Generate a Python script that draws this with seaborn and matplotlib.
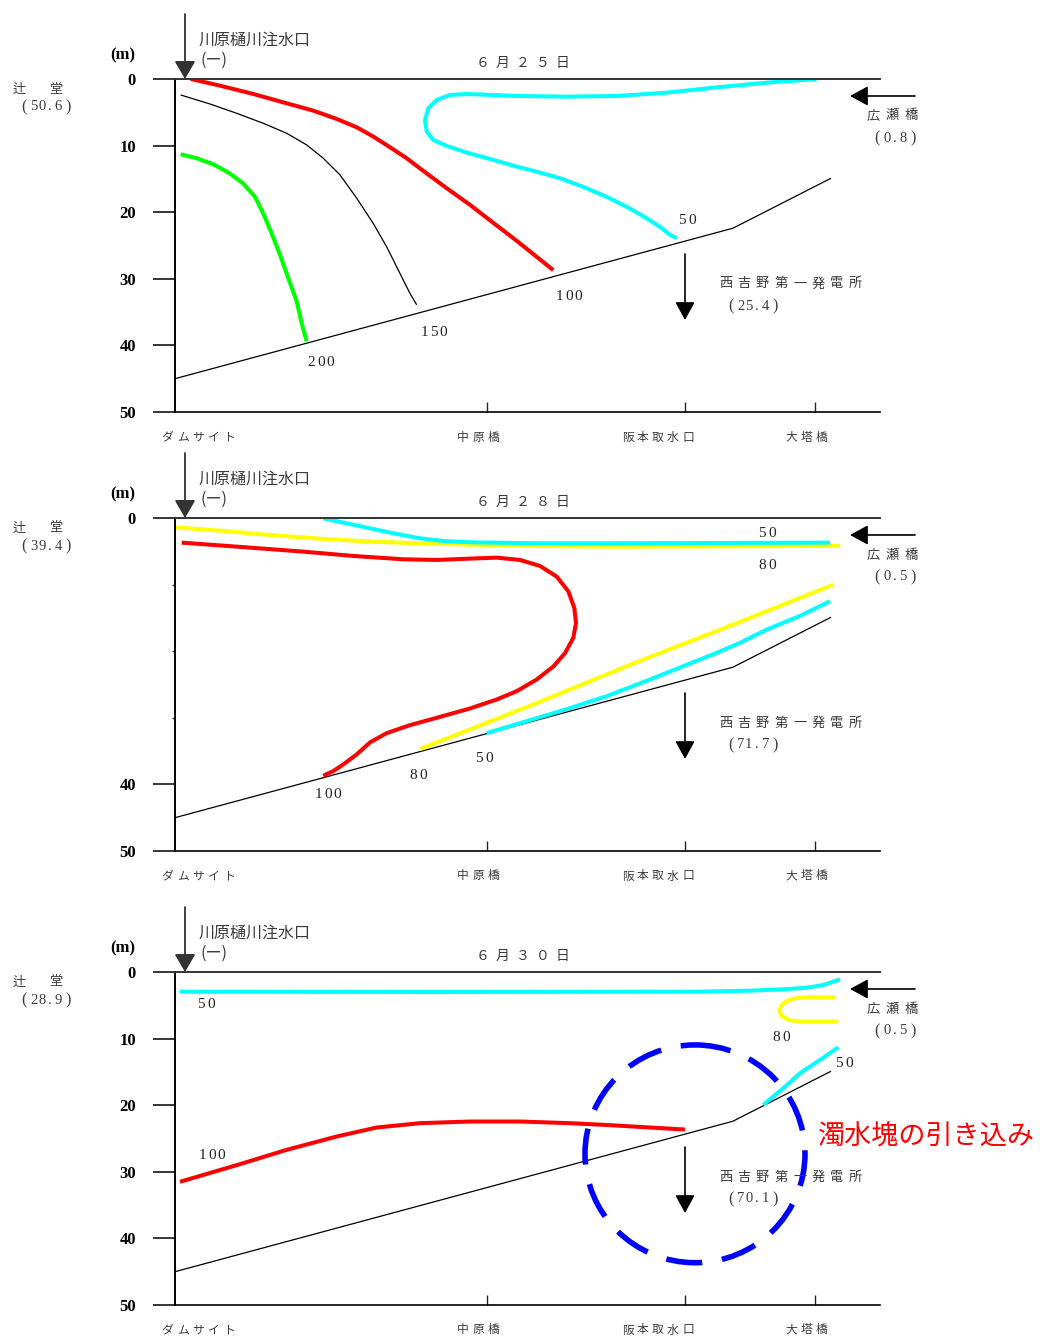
import numpy as np
import pandas as pd
import matplotlib
matplotlib.use("Agg")
import matplotlib.pyplot as plt
from matplotlib.patches import Ellipse, ArrowStyle
from matplotlib.transforms import ScaledTranslation
import seaborn as sns

sns.set_style("white")
plt.rcParams['font.family'] = ['Noto Sans CJK JP', 'DejaVu Sans']

# ---------------- data ----------------
# x: distance from dam site (chart units), y: depth (m)
station_names = ["ダムサイト", "中原橋", "阪本取水口", "大塔橋"]
station_x = [0, 312, 510, 640]
depth_ticks = [0, 10, 20, 30, 40, 50]

bed_x = [0, 558, 656]
bed_y = [45.0, 22.4, 14.9]

panel_titles = ["６月２５日", "６月２８日", "６月３０日"]
tsujido_vals = ["50.6", "39.4", "28.9"]
hirose_vals = ["0.8", "0.5", "0.5"]
nishiyoshino_vals = ["25.4", "71.7", "70.1"]

# Panel 1 (6/25)
p1_red100_x = [15.7, 45, 78.3, 111.7, 138.3, 161.7, 181.7, 198.3, 215, 231.7, 248.3,
               271.7, 295, 318.3, 341.7, 361.7, 378.3]
p1_red100_y = [0, 1.0, 2.25, 3.65, 4.75, 6.0, 7.25, 8.65, 10.25, 11.9, 13.8,
               16.4, 18.9, 21.6, 24.3, 26.7, 28.7]
p1_blk150_x = [5.7, 35, 61.7, 88.3, 111.7, 131.7, 148.3, 165, 181.7, 198.3, 211.7,
               225, 235, 241.7]
p1_blk150_y = [2.4, 3.75, 5.15, 6.65, 8.15, 9.9, 11.9, 14.4, 17.9, 21.7, 25.2,
               29.2, 32.2, 33.9]
p1_grn200_x = [5.7, 21.7, 38.3, 55, 68.3, 80, 88.3, 96.7, 105, 113.3, 121.7, 126.7, 131.7]
p1_grn200_y = [11.3, 11.9, 12.8, 14.2, 15.7, 17.7, 20.2, 23.2, 26.4, 29.9, 33.4, 36.7, 39.4]
p1_cyn50_x = [641.7, 591.7, 541.7, 491.7, 441.7, 391.7, 341.7, 291.7, 275, 261.7,
              253.3, 250, 251.7, 258.3, 271.7, 291.7, 318.3, 341.7, 365, 385,
              408.3, 431.7, 451.7, 468.3, 485, 495, 501.7]
p1_cyn50_y = [0, 0.55, 1.25, 2.05, 2.55, 2.65, 2.55, 2.25, 2.4, 3.15,
              4.4, 6.15, 7.9, 9.15, 10.05, 11.05, 12.15, 13.15, 14.05, 14.9,
              16.2, 17.7, 19.2, 20.6, 22.2, 23.4, 23.9]

# Panel 2 (6/28)
p2_yel80a_x = [0, 45, 95, 145, 195, 245, 295, 361.7, 435, 655, 665]
p2_yel80a_y = [1.4, 1.9, 2.55, 3.1, 3.55, 3.8, 4.0, 4.2, 4.3, 4.2, 4.15]
p2_cyn50a_x = [148.3, 171.7, 195, 221.7, 245, 268.3, 295, 361.7, 435, 655]
p2_cyn50a_y = [0.05, 0.8, 1.55, 2.4, 3.05, 3.45, 3.65, 3.8, 3.8, 3.7]
p2_red100_x = [6.7, 61.7, 128.3, 178.3, 228.3, 261.7, 295, 321.7, 345, 365, 381.7,
               393.3, 399.3, 401, 398.3, 390, 378.3, 361.7, 341.7, 321.7, 295,
               261.7, 235, 211.7, 195, 181.7, 168.3, 158.3, 148.3]
p2_red100_y = [3.7, 4.3, 5.05, 5.7, 6.2, 6.3, 6.1, 5.95, 6.3, 7.2, 8.8,
               11.0, 13.5, 15.8, 18.0, 20.3, 22.3, 24.25, 26.0, 27.25, 28.6,
               30.0, 31.1, 32.3, 33.7, 35.5, 37.0, 38.0, 38.7]
p2_yel80b_x = [245, 358.3, 458.3, 558.3, 658.3]
p2_yel80b_y = [34.7, 28.0, 21.85, 16.0, 10.0]
p2_cyn50b_x = [311.7, 358.3, 391.7, 431.7, 475, 508.3, 541.7, 565, 591.7, 625, 655]
p2_cyn50b_y = [32.3, 30.2, 28.7, 26.75, 24.25, 22.25, 20.25, 18.75, 16.75, 14.7, 12.5]

# Panel 3 (6/30)
p3_cyn50a_x = [5, 260, 525, 575, 608.3, 631.7, 648.3, 658.3, 665]
p3_cyn50a_y = [2.95, 3.0, 2.95, 2.8, 2.6, 2.35, 1.95, 1.45, 1.1]
p3_yel80_x = [660, 635, 621.7, 612.3, 606.7, 604.3, 606.7, 613.3, 625, 645, 663.3]
p3_yel80_y = [3.8, 3.8, 3.9, 4.3, 4.95, 5.8, 6.6, 7.2, 7.45, 7.45, 7.45]
p3_cyn50b_x = [588.3, 608.3, 625, 645, 663.3]
p3_cyn50b_y = [19.95, 17.45, 15.2, 13.2, 11.3]
p3_red100_x = [5, 61.7, 111.7, 161.7, 201.7, 245, 295, 345, 395, 435, 475, 510]
p3_red100_y = [31.5, 29.0, 26.7, 24.7, 23.35, 22.7, 22.45, 22.45, 22.7, 23.0, 23.35, 23.65]

# contour labels: (text, x, y)
p1_labels = [("100", 394, 32.6), ("150", 259, 38.1), ("200", 146, 42.6), ("50", 512, 21.2)]
p2_labels = [("50", 592, 2.4), ("80", 592, 7.2), ("100", 153, 41.5), ("80", 243, 38.6), ("50", 309, 36.1)]
p3_labels = [("50", 31, 4.95), ("80", 606, 9.9), ("50", 669, 13.7), ("100", 37, 27.5)]

# ---------------- figure ----------------
W, H = 1040, 1338
fig = plt.figure(figsize=(W / 100, H / 100), dpi=100)

def fx(px):
    return px / W

def fy(py):
    return 1 - py / H

TXT = '#3a3a3a'

def spaced(px_center, py, s, pitch, size=9.5, color=TXT, family=None):
    n = len(s)
    x0 = px_center - pitch * (n - 1) / 2
    for i, ch in enumerate(s):
        kw = {}
        if family:
            kw['fontfamily'] = family
        fig.text(fx(x0 + i * pitch), fy(py), ch, ha='center', va='center',
                 fontsize=size, color=color, **kw)

def paren_value(px_center, py, val, pitch=8.2, size=10.5):
    spaced(px_center, py, val, pitch, size=size, family='Liberation Serif')
    half = pitch * len(val) / 2 + 6
    fig.text(fx(px_center - half), fy(py), '(', ha='center', va='center', fontsize=size + 1,
             color=TXT, fontfamily='Liberation Serif')
    fig.text(fx(px_center + half), fy(py), ')', ha='center', va='center', fontsize=size + 1,
             color=TXT, fontfamily='Liberation Serif')

def data_spaced(ax, x, y, s, pitch=9.5, size=11):
    n = len(s)
    for i, ch in enumerate(s):
        dx = (i - (n - 1) / 2) * pitch
        tr = ax.transData + ScaledTranslation(dx / 100, 0, fig.dpi_scale_trans)
        ax.text(x, y, ch, transform=tr, ha='center', va='center', fontsize=size,
                fontfamily='Liberation Serif', color='#222222')

panel_top = [79, 518, 972]
ax_left, ax_right = 175, 880
scale = 333 / 50.0

RED, CYAN, GREEN, YELLOW = '#ff0000', '#00ffff', '#00ff00', '#ffff00'
LW = 2.9

def draw(ax, xs, ys, color, lw=LW):
    df = pd.DataFrame({'x': xs, 'y': ys})
    sns.lineplot(data=df, x='x', y='y', sort=False, estimator=None, color=color,
                 lw=lw, ax=ax, solid_capstyle='butt', solid_joinstyle='round')

panels = [
    [(p1_red100_x, p1_red100_y, RED), (p1_blk150_x, p1_blk150_y, 'black'),
     (p1_grn200_x, p1_grn200_y, GREEN), (p1_cyn50_x, p1_cyn50_y, CYAN)],
    [(p2_yel80a_x, p2_yel80a_y, YELLOW), (p2_cyn50a_x, p2_cyn50a_y, CYAN),
     (p2_red100_x, p2_red100_y, RED), (p2_yel80b_x, p2_yel80b_y, YELLOW),
     (p2_cyn50b_x, p2_cyn50b_y, CYAN)],
    [(p3_cyn50a_x, p3_cyn50a_y, CYAN), (p3_yel80_x, p3_yel80_y, YELLOW),
     (p3_cyn50b_x, p3_cyn50b_y, CYAN), (p3_red100_x, p3_red100_y, RED)],
]
labels_all = [p1_labels, p2_labels, p3_labels]

for i in range(3):
    y0 = panel_top[i]
    ax = fig.add_axes([fx(ax_left), fy(y0 + 333), (ax_right - ax_left) / W, 333 / H])
    ax.set_xlim(0, 705)
    ax.set_ylim(50, 0)
    ax.set_facecolor('none')
    ax.spines['right'].set_visible(False)
    ax.spines['left'].set_linewidth(1.4)
    ax.spines['left'].set_color('black')
    ax.spines['top'].set_linewidth(1.4)
    ax.spines['top'].set_color('#333333')
    ax.spines['bottom'].set_linewidth(1.2)
    ax.spines['bottom'].set_color('black')

    # bed line
    draw(ax, bed_x, bed_y, 'black', lw=0.9)
    for xs, ys, c in panels[i]:
        draw(ax, xs, ys, c, lw=(0.9 if c == 'black' else LW))

    # y ticks
    if i == 1:
        ax.set_yticks([0, 40, 50])
        ax.set_yticks([10, 20, 30], minor=True)
        ax.tick_params(axis='y', which='minor', left=True, length=2, width=1, direction='out')
    else:
        ax.set_yticks(depth_ticks)
    ax.set_yticklabels([str(v) for v in ax.get_yticks()], fontfamily='Liberation Serif',
                       fontweight='bold', fontsize=12)
    ax.tick_params(axis='y', which='major', left=True, length=16, width=1.1, direction='out',
                   pad=12, colors='black')
    # x ticks (inward, no labels)
    ax.set_xticks(station_x[1:])
    ax.set_xticklabels([])
    ax.tick_params(axis='x', bottom=True, length=7, width=1, direction='in')
    ax.set_xlabel('')
    ax.set_ylabel('')

    # contour labels
    for t, x, y in labels_all[i]:
        data_spaced(ax, x, y, t)

    # station labels
    spaced(198, y0 + 358, station_names[0], 15.5, size=8.5)
    spaced(478, y0 + 358, station_names[1], 15.0, size=8.5)
    spaced(658, y0 + 358, station_names[2], 15.0, size=8.5)
    spaced(806, y0 + 358, station_names[3], 15.0, size=8.5)

    # inflow arrow at top-left
    ax.annotate('', xy=(10, 0), xytext=(10, (14 - 79) / scale),
                arrowprops=dict(arrowstyle=ArrowStyle('-|>', head_length=0.55, head_width=0.32),
                                mutation_scale=20, color='#333333', lw=1.3, shrinkA=0, shrinkB=0),
                annotation_clip=False)
    fig.text(fx(199), fy(y0 - 39), '川原樋川注水口', ha='left', va='center', fontsize=11.5, color=TXT)
    fig.text(fx(201), fy(y0 - 19), '(ー)', ha='left', va='center', fontsize=11.5, color=TXT)
    fig.text(fx(123), fy(y0 - 24), '(m)', ha='center', va='center', fontsize=12,
             fontweight='bold', fontfamily='Liberation Serif', color='black')

    # title
    spaced(523, y0 - 16, panel_titles[i], 20, size=10)

    # left station
    fig.text(fx(19), fy(y0 + 10), '辻', ha='center', va='center', fontsize=9.5, color=TXT)
    fig.text(fx(56), fy(y0 + 10), '堂', ha='center', va='center', fontsize=9.5, color=TXT)
    paren_value(46, y0 + 28, tsujido_vals[i])

    # right inflow arrow
    ax.annotate('', xy=(675, 2.55), xytext=(740, 2.55),
                arrowprops=dict(arrowstyle=ArrowStyle('-|>', head_length=0.55, head_width=0.3),
                                mutation_scale=20, color='black', lw=1.2, shrinkA=0, shrinkB=0),
                annotation_clip=False)
    spaced(892, y0 + 37, '広瀬橋', 19, size=9.5)
    paren_value(895, y0 + 59, hirose_vals[i])

    # outflow arrow
    ax.annotate('', xy=(510, (320 - 79) / scale), xytext=(510, (254 - 79) / scale),
                arrowprops=dict(arrowstyle=ArrowStyle('-|>', head_length=0.55, head_width=0.3),
                                mutation_scale=20, color='black', lw=1.2, shrinkA=0, shrinkB=0),
                annotation_clip=False)
    spaced(790.5, y0 + 205, '西吉野第一発電所', 18.6, size=9.5)
    paren_value(753, y0 + 227, nishiyoshino_vals[i])

    if i == 2:
        circ = Ellipse((520, 27.3), 220, 32.7, fill=False, edgecolor='#0000ff', lw=4,
                       linestyle=(0, (6.5, 3.6)), zorder=5)
        ax.add_patch(circ)
        fig.text(fx(818), fy(1137), '濁水塊の引き込み', ha='left', va='center',
                 fontsize=19.5, color='#ff0000')

fig.savefig('out.png', dpi=100)
